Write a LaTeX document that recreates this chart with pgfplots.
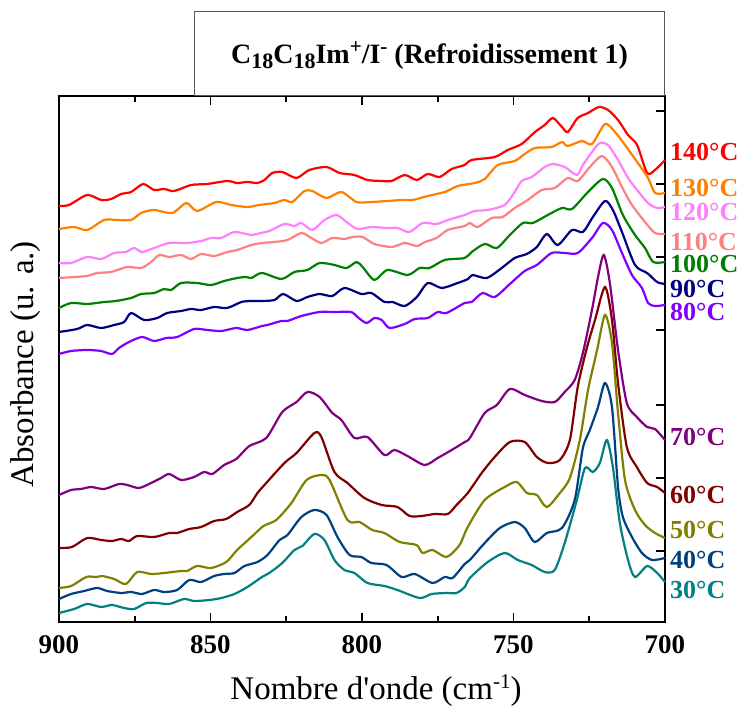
\documentclass[border=0pt]{standalone}
\usepackage{pgfplots}
\pgfplotsset{compat=1.18}
\usepackage{fontspec}
\setmainfont{Liberation Serif}

\definecolor{c140}{RGB}{255,0,0}
\definecolor{c130}{RGB}{255,128,0}
\definecolor{c120}{RGB}{255,128,255}
\definecolor{c110}{RGB}{255,128,128}
\definecolor{c100}{RGB}{0,128,0}
\definecolor{c90}{RGB}{0,0,128}
\definecolor{c80}{RGB}{128,0,255}
\definecolor{c70}{RGB}{128,0,128}
\definecolor{c60}{RGB}{128,0,0}
\definecolor{c50}{RGB}{128,128,0}
\definecolor{c40}{RGB}{0,64,128}
\definecolor{c30}{RGB}{0,128,128}

\newcommand\lo[1]{\raisebox{-0.4ex}{\fontsize{22}{22}\selectfont #1}}
\newcommand\hi[1]{\raisebox{0.75ex}{\fontsize{21}{21}\selectfont #1}}

\begin{document}
\begin{tikzpicture}
\begin{axis}[
  scale only axis,
  width=606pt, height=526pt,
  x dir=reverse,
  xmin=700, xmax=900,
  ymin=0, ymax=526,
  xtick={700,750,800,850,900},
  minor x tick num=1,
  ytick={71,144,217,292,365,438,511},
  yticklabels={},
  ytick pos=right,
  tick align=inside,
  major tick length=9pt,
  minor tick length=6pt,
  every tick/.style={black, line width=1.8pt},
  axis line style={line width=2.5pt},
  /pgf/number format/assume math mode=true,
  xticklabel style={font=\fontsize{27}{29}\selectfont\bfseries, yshift=-10pt},
  xlabel={Nombre d\textquotesingle onde (cm\hi{-1})},
  xlabel style={font=\fontsize{33}{35}\selectfont, yshift=-14pt, xshift=14pt},
  clip=false,
  every axis plot/.append style={line width=2.2pt, smooth, tension=0.45, mark=none},
]
% 140 C
\addplot[c140] coordinates {
(900,416)(896.7,417)(890.7,427)(886.1,422)(882.8,423)(879.5,428)(876.2,430)(872.2,438)
(868.6,432)(865.3,433)(862.0,431)(856.4,437)(851.1,438)(844.5,441)(841.2,439)(837.8,440)
(834.5,439)(832.2,442)(829.6,449)(826.3,450)(821.6,444)(817.4,452)(811.7,455)(807.4,449)
(802.5,447)(798.2,442)(793.5,441)(790.2,441)(785.9,447)(781.9,442)(778.3,448)(774.4,445)
(770.4,453)(766.1,457)(763.8,462)(756.2,465)(751.9,472)(747.3,478)(742.9,490)(739.7,497)
(737.0,504)(734.0,495)(732.1,490)(728.8,504)(725.4,509)(721.8,515)(718.8,512)(715.5,502)
(712.2,487)(709.2,477)(705.9,449)(703.3,452)(700,462)};
% 130 C
\addplot[c130] coordinates {
(900,393)(895.0,395)(890.7,392)(885.1,402)(880.8,402)(876.2,402)(872.9,409)(868.6,412)
(862.6,409)(858.0,419)(854.4,411)(848.1,420)(843.1,417)(837.8,415)(834.0,417)(828.9,419)
(825.6,422)(823.0,420)(819.0,431)(816.4,431)(811.7,424)(806.8,430)(801.8,420)(796.9,420)
(791.6,421)(786.9,422)(783.3,422)(778.3,426)(772.7,430)(768.4,436)(762.8,439)(759.5,443)
(755.2,457)(749.6,461)(746.3,468)(742.9,474)(737.4,475)(734.0,480)(732.1,476)(727.4,481)
(724.1,478)(719.8,498)(716.5,490)(713.2,477)(709.2,460)(705.6,444)(703.3,429)(700,429)};
% 120 C
\addplot[c120] coordinates {
(900,359)(896.0,359)(890.7,365)(886.1,363)(881.8,369)(877.9,370)(875.2,374)(872.6,370)
(868.6,374)(863.6,379)(857.7,379)(853.1,381)(849.8,384)(846.4,384)(842.1,390)(836.5,387)
(833.5,389)(830.6,391)(825.6,398)(822.3,396)(820.0,399)(816.4,392)(812.4,402)(808.4,407)
(805.1,400)(801.5,393)(796.9,395)(791.9,394)(788.3,394)(784.3,390)(780.0,399)(775.4,398)
(771.7,402)(766.1,407)(762.8,411)(758.5,412)(752.9,417)(749.6,430)(747.3,441)(744.0,445)
(739.7,455)(737.0,458)(733.1,455)(729.1,447)(727.1,457)(724.1,470)(721.5,479)(718.8,477)
(715.5,462)(712.2,444)(709.2,432)(705.6,419)(702.6,414)(700,415)};
% 110 C
\addplot[c110] coordinates {
(900,344)(895.0,345)(890.7,346)(887.4,349)(882.8,350)(877.5,355)(872.9,354)(869.6,360)
(866.9,367)(863.6,365)(859.7,367)(856.4,363)(853.1,368)(848.8,366)(844.5,370)(841.2,372)
(836.5,377)(833.0,379)(828.9,380)(824.6,382)(820.0,389)(816.7,384)(813.4,379)(809.8,384)
(805.8,383)(803.1,385)(799.8,385)(795.9,378)(790.2,375)(785.9,379)(781.9,376)(779.2,380)
(775.4,384)(771.7,392)(766.1,396)(764.4,399)(761.8,395)(757.2,404)(753.6,405)(749.6,414)
(745.3,422)(740.7,432)(736.4,434)(732.1,444)(728.8,441)(724.8,455)(720.8,466)(717.5,455)
(714.2,435)(710.9,417)(706.6,400)(703.3,389)(700,388)};
% 100 C
\addplot[c100] coordinates {
(900,314)(896.0,319)(890.7,318)(885.1,320)(881.2,321)(876.2,324)(872.9,328)(868.6,329)
(865.3,333)(863.0,332)(859.7,339)(854.4,339)(849.8,337)(845.5,341)(841.2,344)(838.2,345)
(836.5,344)(833.0,349)(826.6,343)(822.3,350)(818.0,352)(814.0,359)(809.1,357)(805.1,354)
(801.8,360)(799.8,355)(795.9,342)(791.6,352)(784.9,347)(781.0,354)(777.7,354)(772.7,362)
(766.1,364)(763.8,370)(759.5,378)(755.5,374)(751.2,387)(746.9,399)(743.6,399)(738.7,407)
(734.0,414)(730.7,413)(725.4,430)(720.5,443)(717.5,434)(713.9,407)(709.9,387)(706.6,374)
(703.9,360)(700,360)};
% 90 C
\addplot[c90] coordinates {
(900,290)(894.0,293)(890.7,297)(886.1,294)(881.8,297)(878.5,300)(876.2,309)(871.9,302)
(867.6,304)(864.3,309)(859.7,311)(856.4,313)(853.1,312)(848.8,315)(844.5,314)(839.8,320)
(836.5,321)(833.0,321)(828.9,322)(826.0,328)(821.6,321)(818.0,325)(814.0,328)(809.8,326)
(805.8,334)(800.2,328)(796.9,329)(792.6,320)(789.9,320)(785.9,316)(781.9,325)(778.3,339)
(773.7,334)(768.4,339)(765.0,343)(763.5,347)(758.8,344)(753.9,354)(749.6,364)(745.6,368)
(742.3,375)(739.0,388)(735.4,377)(730.7,392)(727.1,390)(723.8,405)(719.8,421)(717.2,412)
(714.2,390)(709.9,357)(705.9,349)(702.6,340)(700,338)};
% 80 C
\addplot[c80] coordinates {
(900,268)(896.0,271)(890.7,272)(886.1,271)(882.5,268)(880.2,274)(876.9,280)(872.6,285)
(868.6,281)(864.6,284)(861.0,285)(855.4,293)(851.1,292)(846.4,291)(841.5,294)(837.8,292)
(833.0,296)(831.2,297)(826.6,301)(824.6,301)(820.0,306)(814.0,310)(809.1,310)(803.5,310)
(801.5,305)(798.5,299)(795.9,304)(793.5,302)(790.9,294)(785.9,298)(782.6,303)(778.3,304)
(775.0,310)(772.1,309)(766.1,319)(763.8,320)(760.2,329)(756.2,325)(751.2,338)(746.3,351)
(742.3,357)(737.4,369)(733.1,369)(728.8,369)(724.1,384)(720.5,399)(717.5,392)(714.2,369)
(710.9,347)(707.6,334)(705.6,319)(703.3,316)(700,317)};
% 70 C
\addplot[c70] coordinates {
(900,127)(896.0,132)(892.7,133)(889.4,135)(885.1,133)(880.2,138)(877.5,137)(873.6,134)
(869.6,139)(866.3,144)(863.6,148)(859.7,142)(855.4,145)(852.1,150)(849.4,148)(845.5,157)
(841.5,163)(837.2,176)(831.6,184)(826.3,210)(821.6,220)(818.0,230)(814.0,225)(809.8,209)
(806.8,202)(802.5,184)(798.2,185)(792.6,167)(789.3,172)(785.0,166)(779.3,157)(775.0,164)
(770.4,172)(766.1,180)(764.4,184)(759.5,209)(755.5,217)(751.2,233)(746.3,227)(740.7,221)
(736.4,220)(733.1,230)(729.8,242)(727.1,269)(724.1,312)(722.1,345)(720.2,367)(718.2,339)
(715.5,272)(712.6,219)(709.3,205)(705.9,195)(703.3,193)(700,182)};
% 60 C
\addplot[c60] coordinates {
(900,74)(895.7,75)(890.7,84)(886.1,82)(882.5,81)(879.5,83)(876.9,81)(874.2,86)
(868.6,85)(863.6,89)(861.0,89)(857.0,93)(853.1,95)(848.8,101)(844.8,103)(841.2,110)
(837.2,117)(834.5,129)(832.2,137)(825.6,159)(821.6,169)(815.7,189)(813.4,185)(809.1,150)
(804.8,139)(799.2,124)(793.5,117)(788.3,115)(784.3,106)(780.3,106)(776.0,108)(771.7,108)
(768.8,117)(765.1,129)(760.5,149)(756.2,165)(751.2,180)(746.3,180)(742.3,165)(738.7,159)
(734.7,162)(731.4,182)(728.8,235)(725.8,274)(723.1,302)(719.8,335)(717.5,302)(715.5,239)
(712.6,175)(709.3,155)(705.9,139)(702.6,135)(700,129)};
% 50 C
\addplot[c50] coordinates {
(900,34)(896.0,36)(891.0,45)(887.7,45)(885.8,46)(881.8,43)(877.9,38)(874.2,50)
(869.6,48)(865.3,49)(859.7,51)(857.7,51)(854.4,56)(849.8,54)(844.8,60)(841.2,72)
(836.5,85)(832.5,96)(828.3,102)(823.3,119)(818.3,142)(813.4,147)(810.7,142)(804.8,102)
(800.8,100)(796.6,92)(792.6,89)(787.6,80)(782.0,77)(780.0,69)(776.7,72)(772.1,65)
(767.8,77)(765.1,95)(759.5,122)(752.9,135)(748.9,140)(745.6,129)(742.3,127)(739.0,115)
(734.7,129)(731.4,144)(728.1,182)(725.4,232)(722.4,272)(719.8,307)(717.5,279)(715.5,209)
(713.2,142)(709.9,112)(706.6,97)(703.3,89)(700,84)};
% 40 C
\addplot[c40] coordinates {
(900,23)(896.0,28)(891.7,31)(887.4,34)(884.1,31)(879.5,29)(876.2,30)(872.6,28)
(868.6,32)(865.3,30)(861.0,32)(857.0,42)(853.1,40)(848.8,46)(845.5,48)(842.1,49)
(838.8,56)(834.5,60)(831.2,67)(827.2,82)(824.6,87)(820.0,105)(815.7,112)(811.7,107)
(808.1,85)(804.1,67)(800.2,65)(796.9,59)(791.9,57)(786.9,45)(782.6,48)(776.7,39)
(772.7,45)(770.1,44)(766.1,58)(764.4,62)(759.5,79)(754.5,94)(749.6,100)(746.3,94)
(743.0,80)(739.0,89)(734.0,94)(729.8,122)(727.1,174)(724.8,192)(722.1,215)(719.8,239)
(717.5,215)(715.5,135)(713.9,105)(710.9,85)(707.6,69)(704.3,62)(700,64)};
% 30 C
\addplot[c30] coordinates {
(900,9)(895.0,13)(890.7,18)(886.1,15)(882.5,17)(878.5,14)(875.2,13)(871.2,19)
(867.6,19)(863.6,18)(858.7,23)(855.4,21)(850.4,22)(846.4,24)(842.1,28)(837.8,35)
(833.0,45)(830.6,49)(826.3,59)(822.3,72)(819.7,76)(815.7,88)(812.4,82)(809.1,62)
(805.8,52)(802.5,49)(798.2,39)(792.6,36)(788.3,32)(781.0,24)(777.0,28)(772.1,29)
(768.8,29)(766.1,35)(764.4,44)(758.5,60)(752.9,69)(748.6,62)(744.0,57)(739.7,50)
(736.4,52)(733.1,79)(729.1,122)(726.4,154)(723.8,150)(721.5,159)(719.2,182)(717.2,155)
(714.9,99)(712.2,62)(709.9,45)(705.9,56)(702.6,49)(700,40)};

% temperature labels
\begin{scope}[every node/.style={anchor=west, font=\fontsize{26}{28}\selectfont\bfseries, inner sep=0pt, xshift=5pt}]
\node[text=c140] at (axis cs:700,470) {140°C};
\node[text=c130] at (axis cs:700,434) {130°C};
\node[text=c120] at (axis cs:700,410) {120°C};
\node[text=c110] at (axis cs:700,380) {110°C};
\node[text=c100] at (axis cs:700,358) {100°C};
\node[text=c90] at (axis cs:700,333) {90°C};
\node[text=c80] at (axis cs:700,310) {80°C};
\node[text=c70] at (axis cs:700,185) {70°C};
\node[text=c60] at (axis cs:700,127) {60°C};
\node[text=c50] at (axis cs:700,92) {50°C};
\node[text=c40] at (axis cs:700,62) {40°C};
\node[text=c30] at (axis cs:700,32) {30°C};
\end{scope}

% y label, left of the axis
\node[rotate=90, anchor=south, inner sep=0pt, font=\fontsize{33}{35}\selectfont]
  at ([xshift=-18pt]rel axis cs:0,0.49) {Absorbance (u. a.)};

% title box
\draw[line width=1pt, gray!70!black] (rel axis cs:0.223,1) rectangle (rel axis cs:1,1.16);
\node[font=\fontsize{28}{30}\selectfont\bfseries] at (rel axis cs:0.6115,1.077)
  {C\lo{18}C\lo{18}Im\hi{+}/I\hi{-} (Refroidissement 1)};
\end{axis}
\pgfresetboundingbox
\path (current axis.south west) ++(-59pt,-87pt) rectangle ++(745pt,709pt);
\end{tikzpicture}
\end{document}
